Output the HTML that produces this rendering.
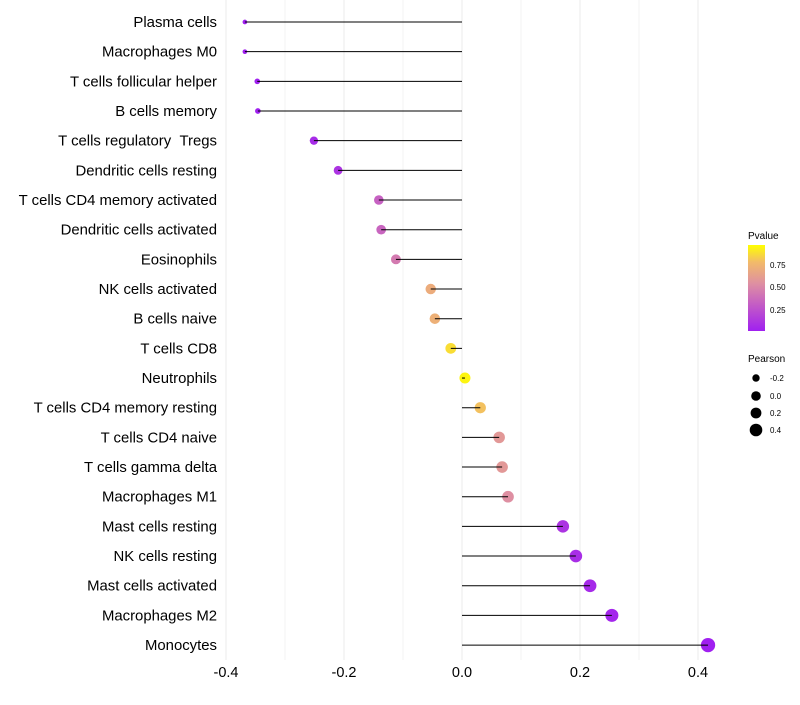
<!DOCTYPE html>
<html><head><meta charset="utf-8"><style>
body{margin:0;background:#fff;font-family:"Liberation Sans",sans-serif}
</style></head><body>
<svg id="chart" width="800" height="700" xmlns="http://www.w3.org/2000/svg" font-family="Liberation Sans, sans-serif">
<defs><linearGradient id="pg" x1="0" y1="1" x2="0" y2="0">
<stop offset="0" stop-color="#A020F0"/><stop offset="0.3" stop-color="#C35BC6"/><stop offset="0.55" stop-color="#DE8FA2"/><stop offset="0.8" stop-color="#F2BA6A"/><stop offset="1" stop-color="#FFFF00"/></linearGradient></defs>
<g id="grid"></g><g id="marks"></g><g id="labels"></g>
<g>
<text x="748" y="239" font-size="10">Pvalue</text>
<rect x="748" y="245" width="17" height="86" fill="url(#pg)"/>
<text x="770" y="268" font-size="8">0.75</text><text x="770" y="290" font-size="8">0.50</text><text x="770" y="313" font-size="8">0.25</text>
</g>
<g>
<text x="748" y="362" font-size="10">Pearson</text>
<circle cx="756" cy="378" r="3.7"/><text x="770" y="381" font-size="8">-0.2</text>
<circle cx="756" cy="396" r="4.8"/><text x="770" y="399" font-size="8">0.0</text>
<circle cx="756" cy="413" r="5.4"/><text x="770" y="416" font-size="8">0.2</text>
<circle cx="756" cy="430" r="6.3"/><text x="770" y="433" font-size="8">0.4</text>
</g>
</svg>
<script>
const cells=["Plasma cells","Macrophages M0","T cells follicular helper","B cells memory","T cells regulatory \u00a0Tregs","Dendritic cells resting","T cells CD4 memory activated","Dendritic cells activated","Eosinophils","NK cells activated","B cells naive","T cells CD8","Neutrophils","T cells CD4 memory resting","T cells CD4 naive","T cells gamma delta","Macrophages M1","Mast cells resting","NK cells resting","Mast cells activated","Macrophages M2","Monocytes"];
const pearson=[-0.368,-0.368,-0.347,-0.346,-0.251,-0.210,-0.141,-0.137,-0.112,-0.053,-0.046,-0.019,0.005,0.031,0.063,0.068,0.078,0.171,0.193,0.217,0.254,0.417];
const pvalue=[0.002,0.002,0.003,0.003,0.06,0.1,0.33,0.35,0.45,0.72,0.74,0.9,0.97,0.82,0.6,0.6,0.55,0.1,0.07,0.05,0.03,0.001];
const xticks=[-0.4,-0.2,0.0,0.2,0.4];
const ns="http://www.w3.org/2000/svg";
const X=v=>462+v*590;
const Y=i=>22+i*29.67;
const R=v=>v<-0.3?2.3+(v+0.37)*22:Math.sqrt(Math.max(4,30+50*v));
function col(p){const st=[[0,[160,32,240]],[0.3,[195,91,198]],[0.55,[222,143,162]],[0.8,[242,186,106]],[1,[255,255,0]]];
for(let k=1;k<st.length;k++){if(p<=st[k][0]){const a=st[k-1],b=st[k],t=(p-a[0])/(b[0]-a[0]);return "rgb("+a[1].map((c,j)=>Math.round(c+(b[1][j]-c)*t)).join(",")+")";}}return "rgb(255,255,0)";}
function mk(t,a,p){const e=document.createElementNS(ns,t);for(const k in a)e.setAttribute(k,a[k]);p.appendChild(e);return e;}
const grid=document.getElementById('grid'),marks=document.getElementById('marks'),labels=document.getElementById('labels');
for(let v=-0.4;v<=0.41;v+=0.1){const l=mk('line',{x1:X(v),x2:X(v),y1:0,y2:660,stroke:'#ebebeb','stroke-width':Math.abs(Math.round(v*10))%2===0?1:0.6},grid);

}
xticks.forEach(v=>{const t=mk('text',{x:X(v),y:677,'font-size':14.5,'text-anchor':'middle',fill:'#000'},labels);t.textContent=v.toFixed(1);

});
cells.forEach((c,i)=>{const t=mk('text',{x:217,y:Y(i)+5,'font-size':14.9,'text-anchor':'end',fill:'#000'},labels);t.textContent=c;


const p=mk('circle',{cx:X(pearson[i]),cy:Y(i),r:R(pearson[i]),fill:col(pvalue[i])},marks);


const s=mk('line',{x1:X(0),x2:X(pearson[i]),y1:Y(i),y2:Y(i),stroke:'#000','stroke-width':1},marks);

});
</script>
</body></html>
